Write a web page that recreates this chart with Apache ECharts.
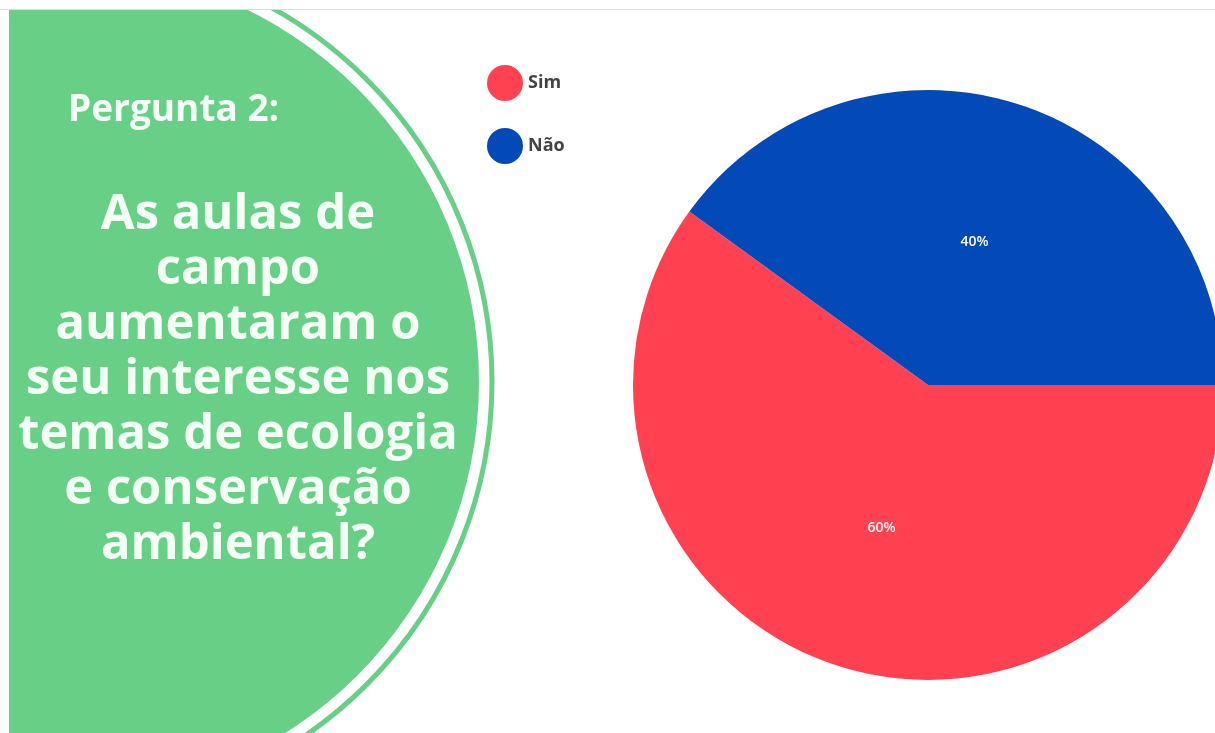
<!DOCTYPE html>
<html>
<head>
<meta charset="utf-8">
<style>
	html, body { margin: 0; padding: 0; background: #fff; }
	#chart { width: 1215px; height: 733px; }
</style>
<script src="https://cdn.jsdelivr.net/npm/echarts@6/dist/echarts.min.js"></script>
</head>
<body>
<div id="chart"></div>
<script>
// dados do gráfico (pergunta 2)
var categorias = ['Sim', 'Não'];
var valores = [60, 40];
var cores = ['#ff4151', '#0349b7'];

// texto do painel verde
var tituloPergunta = 'Pergunta 2:';
var linhasPergunta = ['As aulas de', 'campo', 'aumentaram o', 'seu interesse nos', 'temas de ecologia', 'e conservação', 'ambiental?'];

var verde = '#68cf87';

var chart = echarts.init(document.getElementById('chart'));

var option = {
	backgroundColor: '#fff',
	animation: false,
	legend: {
		orient: 'vertical',
		left: 487,
		top: 65,
		padding: 0,
		icon: 'circle',
		itemWidth: 36,
		itemHeight: 36,
		itemGap: 27,
		data: categorias,
		textStyle: {
			fontFamily: 'Open Sans',
			fontWeight: 'bold',
			fontSize: 18,
			color: '#444',
		},
	},
	// circulo verde + textos
	graphic: [
		{
			type: 'circle',
			z: 1,
			shape: { cx: 64, cy: 382, r: 428 },
			style: { fill: 'none', stroke: verde, lineWidth: 5 },
		},
		{
			type: 'circle',
			z: 2,
			shape: { cx: 64, cy: 382, r: 415 },
			style: { fill: verde },
		},
		// cortes brancos nas bordas
		{
			type: 'rect',
			z: 3,
			shape: { x: 0, y: 0, width: 9, height: 733 },
			style: { fill: '#fff' },
		},
		{
			type: 'rect',
			z: 3,
			shape: { x: 0, y: 0, width: 1215, height: 10 },
			style: { fill: '#fff' },
		},
		{
			type: 'line',
			z: 4,
			shape: { x1: 0, y1: 9.5, x2: 1215, y2: 9.5 },
			style: { stroke: '#dcdcdc', lineWidth: 1 },
		},
		{
			type: 'text',
			z: 5,
			style: {
				text: tituloPergunta,
				x: 68,
				y: 110,
				textAlign: 'left',
				textVerticalAlign: 'middle',
				fill: '#f4fff6',
				font: 'bold 37px "Open Sans"',
			},
		},
		{
			type: 'text',
			z: 5,
			style: {
				text: linhasPergunta.join('\n'),
				x: 238,
				y: 380,
				textAlign: 'center',
				textVerticalAlign: 'middle',
				lineHeight: 55,
				fill: '#f4fff6',
				font: 'bold 49px "Open Sans"',
			},
		},
	],
	series: [
		{
			name: 'Pergunta 2',
			type: 'pie',
			center: [928, 385],
			radius: 295,
			startAngle: 0,
			clockwise: true,
			silent: true,
			color: cores,
			label: {
				show: true,
				position: 'inside',
				formatter: '{d}%',
				color: '#fff',
				fontSize: 14,
				fontFamily: 'Open Sans',
				fontWeight: 600,
			},
			labelLine: { show: false },
			data: categorias.map(function (nome, i) {
				return { name: nome, value: valores[i] };
			}),
		},
	],
};

chart.setOption(option);
</script>
</body>
</html>
